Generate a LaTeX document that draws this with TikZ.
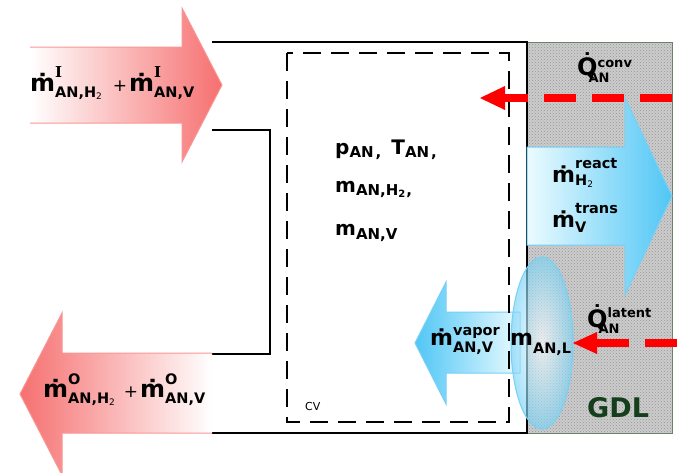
\documentclass[tikz,border=0pt]{standalone}
\usepackage{fontspec}
\setmainfont{DejaVu Sans}
\newfontfamily\serifI{DejaVu Serif}
\usetikzlibrary{patterns}
\definecolor{arrred}{RGB}{246,112,112}
\definecolor{arrredline}{RGB}{250,150,150}
\definecolor{arrblue}{RGB}{80,198,245}
\definecolor{arrbluelight}{RGB}{235,251,255}
\definecolor{arrblueline}{RGB}{120,208,245}
\definecolor{dropblue}{RGB}{120,210,245}
\definecolor{heatred}{RGB}{255,0,0}
\definecolor{gdlgray}{RGB}{204,204,204}
\definecolor{gdldots}{RGB}{150,150,150}
\definecolor{gdledge}{RGB}{110,128,110}
\definecolor{gdlgreen}{RGB}{20,62,28}
\newcommand\fs[1]{\fontsize{#1}{#1}\selectfont}
\newsavebox\mysupbox
\newsavebox\mysubbox
\newcommand\SupSub[5]{#1\sbox\mysupbox{#2}\sbox\mysubbox{#3}%
  \rlap{\raisebox{#4}{\usebox\mysupbox}}\raisebox{-#5}{\usebox\mysubbox}%
  \ifdim\wd\mysupbox>\wd\mysubbox\kern\dimexpr\wd\mysupbox-\wd\mysubbox\relax\fi}
\newcommand\scr[1]{\fs{14.5}#1}
\newcommand\qscr[1]{\fs{13}#1}
\newcommand\two{\raisebox{-2.5pt}{\mdseries\fs{9}2}}
\tikzset{
  wall/.style={draw=black, line width=2pt},
  cvbox/.style={draw=black, line width=2.2pt, dash pattern=on 18pt off 10pt},
  redout/.style={draw=arrredline, line width=1pt},
  blueout/.style={draw=arrblueline, line width=1pt},
  heatline/.style={draw=heatred, line width=8pt, dash pattern=on 32pt off 16pt},
  heathead/.style={fill=heatred},
  lbl/.style={inner sep=0pt, anchor=base west, font=\bfseries\fs{24}},
  mlbl/.style={inner sep=0pt, anchor=base west, font=\bfseries\fs{22}},
  cbl/.style={inner sep=0pt, anchor=base west, font=\bfseries\fs{20}},
  qlbl/.style={inner sep=0pt, anchor=base west, font=\bfseries\fs{24}},
}
\begin{document}
\begin{tikzpicture}[x=1pt,y=-1pt]
\useasboundingbox (0,0) rectangle (681,472);
% GDL
\fill[gdlgray] (527,42) rectangle (672,433);
\fill[pattern=crosshatch dots, pattern color=gdldots] (527,42) rectangle (672,433);
\draw[gdledge, line width=0.8pt] (527,42) rectangle (672,433);
% walls
\draw[wall] (212,42) -- (527,42) -- (527,433) -- (212,433);
\draw[wall] (212,130) -- (270,130) -- (270,354) -- (212,354);
% inlet arrow
\shade[left color=white, right color=arrred] (30,47) -- (182,47) -- (182,8) -- (222,85) -- (182,162) -- (182,123) -- (30,123) -- cycle;
\draw[redout] (30,47) -- (182,47) -- (182,8) -- (222,85) -- (182,162) -- (182,123) -- (30,123);
% outlet arrow
\shade[left color=arrred, right color=white] (212,353) -- (62,353) -- (62,313) -- (20,394) -- (62,475) -- (62,433) -- (212,433) -- cycle;
\draw[redout] (212,353) -- (62,353) -- (62,313) -- (20,394) -- (62,475) -- (62,433) -- (212,433);
% blue arrow to the right
\shade[left color=arrbluelight, right color=arrblue, blueout] (527,147) -- (625,147) -- (625,98) -- (672,196) -- (625,295) -- (625,245) -- (527,245) -- cycle;
% vapor arrow
\shade[left color=arrblue, right color=arrbluelight, blueout] (520,312) -- (446,312) -- (446,282) -- (415,343) -- (446,404) -- (446,373) -- (520,373) -- cycle;
% control volume
\draw[cvbox] (287,53) rectangle (509,422);
% liquid drop
\shade[inner color=white, outer color=dropblue, fill opacity=0.65] (542,343) ellipse [x radius=31, y radius=86];
\draw[arrblueline, line width=1pt] (542,343) ellipse [x radius=31, y radius=86];
% heat flows
\coordinate (qcS) at (672,98);
\coordinate (qcE) at (505,98);
\coordinate (qcT) at (480,98);
\draw[heatline] (qcS) -- (qcE);
\fill[heathead] (qcT) -- ++(25,-12) -- ++(0,24) -- cycle;
\coordinate (qlS) at (677,343);
\coordinate (qlE) at (597,343);
\coordinate (qlT) at (573,343);
\draw[heatline] (qlS) -- (qlE);
\fill[heathead] (qlT) -- ++(24,-11) -- ++(0,22) -- cycle;
% labels
\node[lbl] (inlbl) at (30,91) {\SupSub{ṁ}{\fs{15}\serifI I}{\scr{AN,H\two}}{14pt}{6pt}\hspace{11pt}{\mdseries\fs{17}+}\hspace{2pt}\SupSub{ṁ}{\fs{15}\serifI I}{\scr{AN,V}}{14pt}{6pt}};
\node[lbl] (outlbl) at (43,397) {\SupSub{ṁ}{\scr{O}}{\scr{AN,H\two}}{13pt}{6pt}\hspace{9pt}{\mdseries\fs{17}+}\hspace{2pt}\SupSub{ṁ}{\scr{O}}{\scr{AN,V}}{13pt}{6pt}};
\node[cbl] (st1) at (335,154) {p\raisebox{-3pt}{\fs{15}AN\kern2pt,}\hspace{10pt}T\raisebox{-3pt}{\fs{15}AN\kern2pt,}};
\node[cbl] (st2) at (335,192) {m\raisebox{-3pt}{\fs{15}AN,H\raisebox{-2pt}{\fs{10}2}\kern1pt,}};
\node[cbl] (st3) at (335,235) {m\raisebox{-4pt}{\fs{15}AN,V}};
\node[font=\fs{11}, inner sep=0pt, anchor=base west] (cv) at (305,410) {CV};
\node[qlbl] (qconv) at (577,75) {\.{Q}\rlap{\raisebox{8pt}{\qscr{conv}}}\hspace{-9pt}\raisebox{-7pt}{\qscr{AN}}};
\node[qlbl] (qlat) at (587,327) {\.{Q}\rlap{\raisebox{10pt}{\qscr{latent}}}\hspace{-9pt}\raisebox{-6pt}{\qscr{AN}}};
\node[mlbl] (react) at (552,182) {\SupSub{ṁ}{\scr{react}}{\scr{H\two}}{14pt}{3pt}};
\node[mlbl] (trans) at (552,227) {\SupSub{ṁ}{\scr{trans}}{\scr{V}}{14pt}{5pt}};
\node[mlbl] (vapor) at (430,345) {\SupSub{ṁ}{\scr{vapor}}{\scr{AN,V}}{10pt}{7pt}};
\node[mlbl] (mliq) at (510,345) {m\raisebox{-8pt}{\scr{AN,L}}};
\node[inner sep=0pt, anchor=base west, font=\bfseries\fs{27}, text=gdlgreen] (gdl) at (587,417) {GDL};
\end{tikzpicture}
\end{document}
